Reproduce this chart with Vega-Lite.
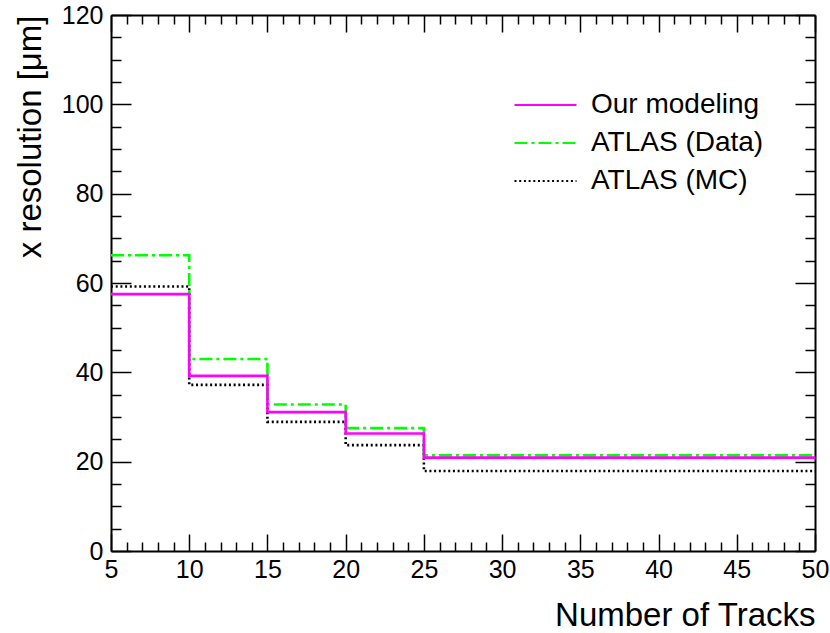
{
  "$schema": "https://vega.github.io/schema/vega-lite/v6.json",
  "width": 704,
  "height": 536,
  "autosize": "none",
  "padding": {"left": 111, "top": 15, "right": 15, "bottom": 82},
  "background": "white",
  "config": {
    "font": "Liberation Sans",
    "view": {"stroke": null},
    "axis": {
      "grid": false,
      "domainColor": "black",
      "domainWidth": 2,
      "tickColor": "black",
      "tickWidth": 1.5,
      "labelColor": "black",
      "titleColor": "black",
      "labelFont": "Liberation Sans",
      "titleFont": "Liberation Sans",
      "titleFontWeight": "normal",
      "labelFlush": false,
      "labelOverlap": false,
      "labelBound": false
    }
  },
  "data": {
    "values": [
      {"series": "ATLAS (MC)", "tracks": 5, "res": 59.2},
      {"series": "ATLAS (MC)", "tracks": 10, "res": 37.2},
      {"series": "ATLAS (MC)", "tracks": 15, "res": 28.9},
      {"series": "ATLAS (MC)", "tracks": 20, "res": 23.7},
      {"series": "ATLAS (MC)", "tracks": 25, "res": 17.9},
      {"series": "ATLAS (MC)", "tracks": 50, "res": 17.9},
      {"series": "ATLAS (Data)", "tracks": 5, "res": 66.2},
      {"series": "ATLAS (Data)", "tracks": 10, "res": 43.0},
      {"series": "ATLAS (Data)", "tracks": 15, "res": 32.8},
      {"series": "ATLAS (Data)", "tracks": 20, "res": 27.5},
      {"series": "ATLAS (Data)", "tracks": 25, "res": 21.4},
      {"series": "ATLAS (Data)", "tracks": 50, "res": 21.4},
      {"series": "Our modeling", "tracks": 5, "res": 57.5},
      {"series": "Our modeling", "tracks": 10, "res": 39.2},
      {"series": "Our modeling", "tracks": 15, "res": 31.1},
      {"series": "Our modeling", "tracks": 20, "res": 26.3},
      {"series": "Our modeling", "tracks": 25, "res": 20.9},
      {"series": "Our modeling", "tracks": 50, "res": 20.9}
    ]
  },
  "layer": [
    {
      "mark": {"type": "line", "interpolate": "step-after", "strokeWidth": 2.6},
      "encoding": {
        "x": {
          "field": "tracks", "type": "quantitative",
          "scale": {"domain": [5, 50], "nice": false, "zero": false},
          "axis": {
            "orient": "bottom",
            "values": [5,6,7,8,9,10,11,12,13,14,15,16,17,18,19,20,21,22,23,24,25,26,27,28,29,30,31,32,33,34,35,36,37,38,39,40,41,42,43,44,45,46,47,48,49,50],
            "tickSize": {"condition": {"test": "datum.value % 5 === 0", "value": -17}, "value": -9},
            "labelExpr": "datum.value % 5 === 0 ? datum.label : ''",
            "labelFontSize": 25,
            "labelPadding": 23,
            "title": "Number of Tracks",
            "titleFontSize": 33,
            "titleAnchor": "end",
            "titlePadding": 9
          }
        },
        "y": {
          "field": "res", "type": "quantitative",
          "scale": {"domain": [0, 120], "nice": false, "zero": false},
          "axis": {
            "orient": "left",
            "values": [0,5,10,15,20,25,30,35,40,45,50,55,60,65,70,75,80,85,90,95,100,105,110,115,120],
            "tickSize": {"condition": {"test": "datum.value % 20 === 0", "value": -20}, "value": -10},
            "labelExpr": "datum.value % 20 === 0 ? datum.label : ''",
            "labelFontSize": 25,
            "labelPadding": 28,
            "title": "x resolution [μm]",
            "titleFontSize": 33,
            "titleAnchor": "end",
            "titlePadding": 14
          }
        },
        "color": {
          "field": "series", "type": "nominal",
          "scale": {"domain": ["Our modeling", "ATLAS (Data)", "ATLAS (MC)"], "range": ["#ff00ff", "#00ff00", "#000000"]},
          "legend": {
            "orient": "none", "legendX": 402, "legendY": 71, "title": null,
            "symbolType": "stroke", "symbolSize": 3844, "symbolStrokeWidth": 2.2,
            "clipHeight": 38, "rowPadding": 0,
            "labelLimit": 400,
            "labelFontSize": 28, "labelOffset": 13, "labelColor": "black", "labelFont": "Liberation Sans"
          }
        },
        "strokeDash": {
          "field": "series", "type": "nominal",
          "scale": {"domain": ["Our modeling", "ATLAS (Data)", "ATLAS (MC)"], "range": [[1, 0], [13, 4, 3, 4], [2, 2.7]]},
          "legend": {
            "orient": "none", "legendX": 402, "legendY": 71, "title": null,
            "symbolType": "stroke", "symbolSize": 3844, "symbolStrokeWidth": 2.2,
            "clipHeight": 38, "rowPadding": 0,
            "labelLimit": 400,
            "labelFontSize": 28, "labelOffset": 13, "labelColor": "black", "labelFont": "Liberation Sans"
          }
        }
      }
    },
    {
      "mark": {"type": "line", "opacity": 0},
      "encoding": {
        "x": {
          "field": "tracks", "type": "quantitative",
          "axis": {
            "orient": "top",
            "values": [5,6,7,8,9,10,11,12,13,14,15,16,17,18,19,20,21,22,23,24,25,26,27,28,29,30,31,32,33,34,35,36,37,38,39,40,41,42,43,44,45,46,47,48,49,50],
            "tickSize": {"condition": {"test": "datum.value % 5 === 0", "value": -17}, "value": -9},
            "labels": false,
            "title": null
          }
        },
        "y": {
          "field": "res", "type": "quantitative",
          "axis": {
            "orient": "right",
            "values": [0,5,10,15,20,25,30,35,40,45,50,55,60,65,70,75,80,85,90,95,100,105,110,115,120],
            "tickSize": {"condition": {"test": "datum.value % 20 === 0", "value": -20}, "value": -10},
            "labels": false,
            "title": null
          }
        }
      }
    }
  ],
  "resolve": {"axis": {"x": "independent", "y": "independent"}}
}
